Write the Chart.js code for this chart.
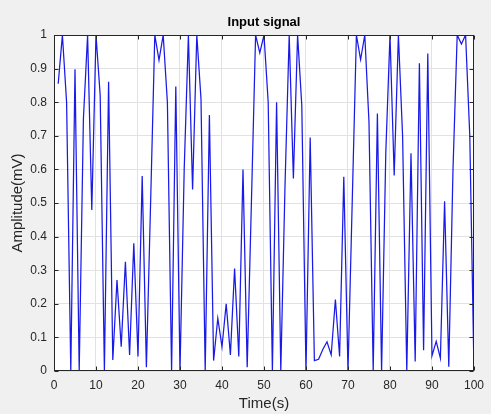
<!DOCTYPE html>
<html>
<head>
<meta charset="utf-8">
<title>Input signal</title>
<script src="https://cdn.jsdelivr.net/npm/chart.js@4/dist/chart.umd.min.js"></script>
<style>
  html, body { margin: 0; padding: 0; background: #f0f0f0; }
  #wrap { width: 491px; height: 414px; }
</style>
</head>
<body>
<div id="wrap"><canvas id="signal" width="491" height="414"></canvas></div>
<script>
// Sample times (s)
const timeSeconds = [
  1, 2, 3, 4, 5, 6, 7, 8, 9, 10,
  11, 12, 13, 14, 15, 16, 17, 18, 19, 20,
  21, 22, 23, 24, 25, 26, 27, 28, 29, 30,
  31, 32, 33, 34, 35, 36, 37, 38, 39, 40,
  41, 42, 43, 44, 45, 46, 47, 48, 49, 50,
  51, 52, 53, 54, 55, 56, 57, 58, 59, 60,
  61, 62, 63, 64, 65, 66, 67, 68, 69, 70,
  71, 72, 73, 74, 75, 76, 77, 78, 79, 80,
  81, 82, 83, 84, 85, 86, 87, 88, 89, 90,
  91, 92, 93, 94, 95, 96, 97, 98, 99, 100
];

// Signal amplitude (mV) at each sample time
const amplitudeMv = [
  0.855, 1.000, 0.800, 0.000, 0.898, 0.000, 0.750, 1.000, 0.479, 1.000,
  0.820, 0.000, 0.861, 0.033, 0.271, 0.072, 0.325, 0.048, 0.380, 0.043,
  0.580, 0.011, 0.500, 1.000, 0.925, 1.000, 0.800, 0.000, 0.847, 0.000,
  0.600, 1.000, 0.540, 1.000, 0.810, 0.000, 0.762, 0.031, 0.157, 0.072,
  0.200, 0.048, 0.305, 0.043, 0.600, 0.011, 0.500, 1.000, 0.947, 1.000,
  0.800, 0.000, 0.800, 0.000, 0.550, 1.000, 0.573, 1.000, 0.790, 0.000,
  0.695, 0.031, 0.035, 0.064, 0.087, 0.048, 0.213, 0.043, 0.578, 0.000,
  0.500, 1.000, 0.927, 1.000, 0.740, 0.000, 0.766, 0.000, 0.650, 1.000,
  0.582, 1.000, 0.700, 0.000, 0.648, 0.028, 0.916, 0.062, 0.945, 0.045,
  0.088, 0.038, 0.505, 0.013, 0.600, 1.000, 0.973, 1.000, 0.700, 0.000
];

// Axis tick labels
const xTickLabels = ['0', '10', '20', '30', '40', '50', '60', '70', '80', '90', '100'];
const yTickLabels = ['0', '0.1', '0.2', '0.3', '0.4', '0.5', '0.6', '0.7', '0.8', '0.9', '1'];

const FONT = 'Liberation Sans, Arial, Helvetica, sans-serif';
const AXIS_COLOR = '#262626';

// Gray figure background, white axes panel, and a boxed frame with inward ticks
const axesFrame = {
  id: 'axesFrame',
  beforeDraw(chart) {
    const { ctx, chartArea: a } = chart;
    ctx.save();
    ctx.fillStyle = '#f0f0f0';
    ctx.fillRect(0, 0, chart.width, chart.height);
    ctx.fillStyle = '#ffffff';
    ctx.fillRect(a.left, a.top, a.right - a.left, a.bottom - a.top);
    ctx.restore();
  },
  afterDatasetsDraw(chart) {
    const { ctx, chartArea: a, scales } = chart;
    const L = Math.round(a.left) + 0.5, R = Math.round(a.right) - 0.5;
    const T = Math.round(a.top) + 0.5, B = Math.round(a.bottom) - 0.5;
    const len = 4;
    ctx.save();
    ctx.strokeStyle = AXIS_COLOR;
    ctx.lineWidth = 1;
    ctx.beginPath();
    scales.x.ticks.forEach(t => {
      const px = Math.round(scales.x.getPixelForValue(t.value)) + 0.5;
      ctx.moveTo(px, B); ctx.lineTo(px, B - len);
      ctx.moveTo(px, T); ctx.lineTo(px, T + len);
    });
    scales.y.ticks.forEach(t => {
      const py = Math.round(scales.y.getPixelForValue(t.value)) + 0.5;
      ctx.moveTo(L, py); ctx.lineTo(L + len, py);
      ctx.moveTo(R, py); ctx.lineTo(R - len, py);
    });
    ctx.stroke();
    ctx.strokeRect(L, T, R - L, B - T);
    ctx.restore();
  }
};

new Chart(document.getElementById('signal'), {
  type: 'line',
  data: {
    datasets: [{
      data: timeSeconds.map((t, i) => ({ x: t, y: amplitudeMv[i] })),
      borderColor: '#1a1ae8',
      borderWidth: 1.25,
      pointRadius: 0,
      tension: 0,
      fill: false
    }]
  },
  options: {
    responsive: false,
    animation: false,
    devicePixelRatio: 1,
    layout: { padding: { left: 0, right: 11, top: 0, bottom: 0 } },
    plugins: {
      legend: { display: false },
      tooltip: { enabled: false },
      title: {
        display: true,
        fullSize: false,
        text: 'Input signal',
        color: '#000000',
        font: { family: FONT, size: 13, weight: 'bold' },
        padding: { top: 15, bottom: 4.4 }
      }
    },
    scales: {
      x: {
        type: 'linear',
        min: 0,
        max: 100,
        afterFit(scale) { scale.height = 43; },
        ticks: {
          stepSize: 10,
          padding: 7,
          color: AXIS_COLOR,
          font: { family: FONT, size: 12 },
          maxRotation: 0,
          callback: (v, i) => xTickLabels[i]
        },
        grid: { color: '#e2e2e2', drawTicks: false },
        border: { display: false },
        title: {
          display: true,
          text: 'Time(s)',
          color: AXIS_COLOR,
          font: { family: FONT, size: 15 },
          padding: { top: 0, bottom: 1 }
        }
      },
      y: {
        type: 'linear',
        min: 0,
        max: 1,
        afterFit(scale) { scale.width = 54; },
        ticks: {
          stepSize: 0.1,
          padding: 7,
          color: AXIS_COLOR,
          font: { family: FONT, size: 12 },
          callback: (v, i) => yTickLabels[i]
        },
        grid: { color: '#e2e2e2', drawTicks: false },
        border: { display: false },
        title: {
          display: true,
          text: 'Amplitude(mV)',
          color: AXIS_COLOR,
          font: { family: FONT, size: 15 },
          padding: { top: 9, bottom: 0 }
        }
      }
    }
  },
  plugins: [axesFrame]
});
</script>
</body>
</html>
